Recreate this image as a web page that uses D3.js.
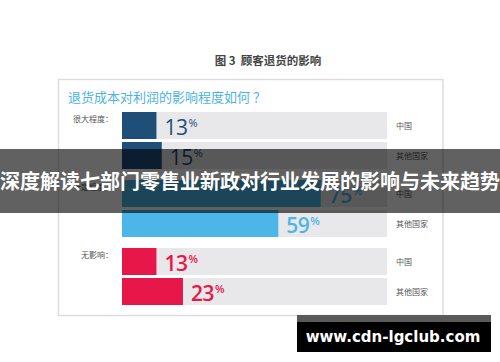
<!DOCTYPE html>
<html>
<head>
<meta charset="utf-8">
<script src="https://cdn.jsdelivr.net/npm/d3@7"></script>
<style>
  html, body { margin: 0; padding: 0; background: #fff; }
  svg { display: block; }
</style>
</head>
<body>
<script>
// survey answers, percent of respondents
var categories = ["很大程度：", "一定程度：", "无影响："];
var countries = ["中国", "其他国家"];
var chinaValues = [13, 75, 13];
var otherValues = [15, 59, 23];

var chartTitle = "图 3  顾客退货的影响";
var question = "退货成本对利润的影响程度如何 ？";
var banner = "深度解读七部门零售业新政对行业发展的影响与未来趋势";
var watermark = "www.cdn-lgclub.com";

var width = 500, height = 362;
var cjk = "'Noto Sans CJK SC', 'Noto Sans', sans-serif";

var rows = [];
categories.forEach(function(c, i) {
  rows.push({cat: c, country: countries[0], value: chinaValues[i], gi: i});
  rows.push({cat: c, country: countries[1], value: otherValues[i], gi: i});
});

var svg = d3.select("body").append("svg")
  .attr("width", width)
  .attr("height", height);

var x = d3.scaleLinear().domain([0, 100]).range([122, 387]);
var y0 = d3.scaleBand().domain(categories).range([112, 316]);
var y1 = d3.scaleBand().domain(countries).range([0, 57]).paddingInner(0.1);
var color = d3.scaleOrdinal().domain(categories).range(["#1f4e79", "#4db6e8", "#e8174a"]);

// chart title
svg.append("text")
  .attr("x", 268).attr("y", 65)
  .attr("text-anchor", "middle")
  .style("white-space", "pre")
  .style("font-family", cjk).style("font-size", "11.5px").style("font-weight", "bold")
  .style("fill", "#444")
  .text(chartTitle);

// box
svg.append("rect")
  .attr("x", 58.5).attr("y", 79.5)
  .attr("width", 384.5).attr("height", 236)
  .style("fill", "#fff").style("stroke", "#ddd").style("stroke-width", 1.5);

svg.append("text")
  .attr("x", 68).attr("y", 101.5)
  .style("white-space", "pre")
  .style("font-family", cjk).style("font-size", "13px")
  .style("fill", "#4db3e2")
  .text(question);

// category labels
svg.selectAll(".cat").data(categories).enter()
  .append("text")
  .attr("class", "cat")
  .attr("x", 113)
  .attr("y", function(d) { return y0(d) + 10; })
  .attr("text-anchor", "end")
  .style("font-family", cjk).style("font-size", "8px").style("fill", "#555")
  .text(function(d) { return d; });

var row = svg.selectAll(".row").data(rows).enter()
  .append("g")
  .attr("class", "row")
  .attr("transform", function(d) { return "translate(0," + (y0(d.cat) + y1(d.country)) + ")"; });

// track
row.append("rect")
  .attr("x", x(0)).attr("width", x(100) - x(0))
  .attr("height", y1.bandwidth())
  .style("fill", "#e8e8ea");

row.append("rect")
  .attr("x", x(0))
  .attr("width", function(d) { return x(d.value) - x(0); })
  .attr("height", y1.bandwidth())
  .style("fill", function(d) { return color(d.cat); });

var label = row.append("text")
  .attr("x", function(d) { return x(d.value) + 8; })
  .attr("y", 23)
  .style("font-family", "'Open Sans', sans-serif")
  .style("font-size", "21px")
  .style("font-weight", function(d) { return d.gi === 0 ? 500 : 600; })
  .style("letter-spacing", "-0.5px")
  .style("fill", function(d) { return color(d.cat); });
label.append("tspan").text(function(d) { return d.value; });
label.append("tspan")
  .attr("dy", -8).attr("dx", 1)
  .style("font-size", "11px")
  .text("%");

row.append("text")
  .attr("x", 396)
  .attr("y", y1.bandwidth() / 2 + 3)
  .style("font-family", cjk).style("font-size", "8px").style("fill", "#555")
  .text(function(d) { return d.country; });

// banner overlay
svg.append("rect")
  .attr("x", 0).attr("y", 149).attr("width", width).attr("height", 64)
  .style("fill", "#000").style("opacity", 0.62);
svg.append("text")
  .attr("x", width / 2).attr("y", 189)
  .attr("text-anchor", "middle")
  .style("font-family", cjk).style("font-size", "20px").style("font-weight", "bold")
  .style("fill", "#fff")
  .text(banner);

// watermark
svg.append("rect")
  .attr("x", 297).attr("y", 315).attr("width", 194).attr("height", 7)
  .style("fill", "#5a5a5a");
svg.append("rect")
  .attr("x", 297).attr("y", 322).attr("width", 194).attr("height", 30)
  .style("fill", "#000");
svg.append("text")
  .attr("x", 393).attr("y", 342)
  .attr("text-anchor", "middle")
  .style("font-family", "'DejaVu Sans', sans-serif").style("font-size", "15px").style("font-weight", "bold")
  .style("fill", "#fff")
  .text(watermark);
</script>
</body>
</html>
